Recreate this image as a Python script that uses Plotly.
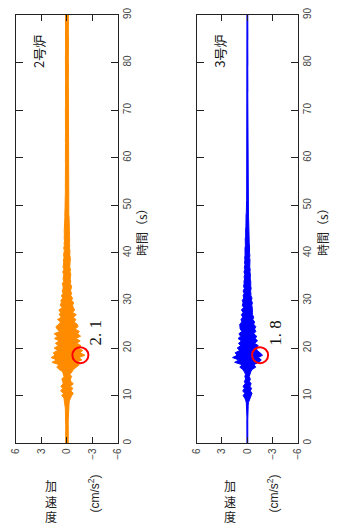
import numpy as np
import plotly.graph_objects as go

# ---- data: per-0.5 s max / min of the acceleration ----
time_s = [round(0.5 * i, 1) for i in range(181)]  # 0 .. 90 s

upper_2 = [
    0.15, 0.14, 0.16, 0.15, 0.14, 0.16, 0.15, 0.15, 0.14, 0.16,
    0.15, 0.16, 0.15, 0.17, 0.18, 0.20, 0.22, 0.25, 0.30, 0.35,
    0.60, 0.40, 0.75, 0.50, 0.70, 0.45, 0.50, 0.60, 0.35, 0.45,
    0.50, 0.90, 1.20, 0.90, 1.75, 1.20, 1.85, 1.40, 1.60, 1.10,
    1.50, 1.00, 1.35, 0.90, 1.45, 1.10, 1.50, 0.85, 1.15, 1.30,
    0.95, 0.75, 1.10, 0.65, 0.90, 0.75, 0.95, 0.55, 0.80, 0.65,
    0.70, 0.50, 0.65, 0.45, 0.55, 0.45, 0.45, 0.55, 0.38, 0.45,
    0.45, 0.38, 0.50, 0.35, 0.45, 0.38, 0.38, 0.42, 0.33, 0.40,
    0.35, 0.30, 0.38, 0.30, 0.33, 0.28, 0.32, 0.28, 0.30, 0.32,
    0.30, 0.26, 0.28, 0.25, 0.27, 0.24, 0.25, 0.22, 0.24, 0.22,
    0.22, 0.20, 0.21, 0.20, 0.19, 0.20, 0.18, 0.19, 0.18, 0.18,
    0.17, 0.18, 0.17, 0.16, 0.18, 0.17, 0.16, 0.17, 0.18, 0.17,
    0.16, 0.17, 0.18, 0.17, 0.16, 0.17, 0.17, 0.18, 0.16, 0.17,
    0.17, 0.16, 0.17, 0.18, 0.17, 0.16, 0.17, 0.17, 0.18, 0.16,
    0.17, 0.18, 0.16, 0.17, 0.17, 0.18, 0.16, 0.17, 0.17, 0.16,
    0.18, 0.17, 0.16, 0.17, 0.18, 0.17, 0.16, 0.17, 0.17, 0.18,
    0.16, 0.17, 0.17, 0.18, 0.16, 0.17, 0.18, 0.17, 0.16, 0.17,
    0.17, 0.16, 0.18, 0.17, 0.17, 0.16, 0.17, 0.18, 0.17, 0.16,
    0.17,
]
lower_2 = [
    -0.15, -0.16, -0.14, -0.15, -0.16, -0.14, -0.15, -0.16, -0.15, -0.14,
    -0.16, -0.15, -0.17, -0.16, -0.18, -0.20, -0.23, -0.25, -0.30, -0.40,
    -0.55, -0.75, -0.45, -0.70, -0.40, -0.75, -0.45, -0.40, -0.55, -0.35,
    -0.60, -0.75, -1.10, -1.45, -1.10, -1.75, -1.40, -2.10, -1.55, -1.85,
    -1.30, -1.65, -1.15, -1.55, -1.05, -1.60, -1.25, -1.45, -0.95, -1.30,
    -1.20, -0.85, -1.05, -0.75, -1.10, -0.65, -0.90, -0.75, -0.65, -0.80,
    -0.55, -0.65, -0.45, -0.55, -0.42, -0.50, -0.55, -0.38, -0.45, -0.38,
    -0.40, -0.45, -0.36, -0.42, -0.33, -0.40, -0.35, -0.38, -0.40, -0.33,
    -0.32, -0.35, -0.29, -0.33, -0.30, -0.27, -0.32, -0.29, -0.27, -0.30,
    -0.28, -0.25, -0.27, -0.24, -0.24, -0.25, -0.22, -0.24, -0.22, -0.21,
    -0.20, -0.21, -0.19, -0.20, -0.19, -0.18, -0.19, -0.18, -0.18, -0.17,
    -0.17, -0.16, -0.18, -0.17, -0.17, -0.16, -0.18, -0.17, -0.16, -0.17,
    -0.18, -0.17, -0.16, -0.17, -0.18, -0.16, -0.17, -0.17, -0.18, -0.16,
    -0.17, -0.18, -0.16, -0.17, -0.17, -0.18, -0.16, -0.17, -0.17, -0.18,
    -0.16, -0.17, -0.18, -0.16, -0.17, -0.17, -0.18, -0.16, -0.17, -0.17,
    -0.17, -0.16, -0.18, -0.17, -0.16, -0.17, -0.18, -0.17, -0.16, -0.17,
    -0.18, -0.16, -0.17, -0.17, -0.18, -0.16, -0.17, -0.18, -0.17, -0.16,
    -0.17, -0.18, -0.16, -0.17, -0.17, -0.18, -0.16, -0.17, -0.17, -0.16,
    -0.17,
]

upper_3 = [
    0.05, 0.06, 0.05, 0.05, 0.06, 0.05, 0.05, 0.06, 0.05, 0.05,
    0.06, 0.05, 0.06, 0.07, 0.07, 0.08, 0.10, 0.12, 0.20, 0.30,
    0.50, 0.30, 0.55, 0.35, 0.50, 0.25, 0.35, 0.20, 0.30, 0.22,
    0.35, 0.55, 0.90, 0.60, 1.50, 1.00, 1.75, 1.20, 1.45, 0.90,
    1.20, 0.80, 1.05, 0.70, 1.10, 0.80, 1.00, 0.65, 0.85, 0.90,
    0.90, 0.65, 0.75, 0.55, 0.70, 0.50, 0.70, 0.45, 0.60, 0.50,
    0.60, 0.42, 0.50, 0.38, 0.50, 0.35, 0.45, 0.38, 0.40, 0.33,
    0.38, 0.30, 0.40, 0.30, 0.35, 0.28, 0.34, 0.28, 0.32, 0.27,
    0.30, 0.25, 0.28, 0.23, 0.26, 0.21, 0.25, 0.20, 0.22, 0.19,
    0.20, 0.17, 0.18, 0.15, 0.16, 0.14, 0.15, 0.12, 0.13, 0.11,
    0.10, 0.09, 0.09, 0.08, 0.08, 0.07, 0.07, 0.07, 0.06, 0.06,
    0.05, 0.06, 0.05, 0.05, 0.06, 0.05, 0.06, 0.05, 0.05, 0.06,
    0.05, 0.05, 0.06, 0.05, 0.05, 0.06, 0.05, 0.06, 0.05, 0.05,
    0.06, 0.05, 0.05, 0.06, 0.05, 0.05, 0.06, 0.05, 0.06, 0.05,
    0.05, 0.06, 0.05, 0.05, 0.06, 0.05, 0.05, 0.06, 0.05, 0.06,
    0.05, 0.05, 0.06, 0.05, 0.06, 0.05, 0.05, 0.06, 0.05, 0.05,
    0.06, 0.05, 0.05, 0.06, 0.05, 0.06, 0.05, 0.05, 0.06, 0.05,
    0.05, 0.06, 0.05, 0.05, 0.06, 0.05, 0.06, 0.05, 0.05, 0.06,
    0.05,
]
lower_3 = [
    -0.05, -0.05, -0.06, -0.05, -0.05, -0.06, -0.05, -0.05, -0.06, -0.05,
    -0.05, -0.06, -0.06, -0.07, -0.08, -0.08, -0.10, -0.12, -0.22, -0.30,
    -0.45, -0.55, -0.35, -0.50, -0.30, -0.45, -0.25, -0.35, -0.22, -0.30,
    -0.40, -0.55, -1.00, -0.75, -1.35, -1.65, -1.30, -1.80, -1.50, -1.15,
    -1.05, -1.30, -0.85, -1.20, -0.95, -1.10, -0.75, -1.00, -0.85, -1.00,
    -0.75, -0.85, -0.65, -0.75, -0.60, -0.60, -0.62, -0.58, -0.52, -0.60,
    -0.48, -0.55, -0.42, -0.42, -0.38, -0.45, -0.40, -0.36, -0.40, -0.34,
    -0.33, -0.36, -0.30, -0.34, -0.28, -0.32, -0.28, -0.31, -0.26, -0.30,
    -0.25, -0.28, -0.23, -0.26, -0.22, -0.22, -0.21, -0.22, -0.19, -0.22,
    -0.18, -0.17, -0.16, -0.15, -0.15, -0.13, -0.13, -0.12, -0.11, -0.10,
    -0.09, -0.09, -0.08, -0.08, -0.07, -0.07, -0.07, -0.06, -0.06, -0.06,
    -0.05, -0.05, -0.06, -0.05, -0.05, -0.06, -0.05, -0.05, -0.06, -0.05,
    -0.06, -0.05, -0.05, -0.06, -0.05, -0.05, -0.06, -0.05, -0.05, -0.06,
    -0.05, -0.06, -0.05, -0.05, -0.06, -0.05, -0.05, -0.06, -0.05, -0.05,
    -0.06, -0.05, -0.05, -0.06, -0.05, -0.06, -0.05, -0.05, -0.06, -0.05,
    -0.05, -0.06, -0.05, -0.05, -0.06, -0.05, -0.05, -0.06, -0.05, -0.06,
    -0.05, -0.05, -0.06, -0.05, -0.05, -0.06, -0.05, -0.05, -0.06, -0.05,
    -0.06, -0.05, -0.05, -0.06, -0.05, -0.05, -0.06, -0.05, -0.05, -0.06,
    -0.05,
]

series_names = ["2号炉", "3号炉"]
series_colors = ["#FF8C00", "#0000FF"]
peak_labels = ["2. 1", "1. 8"]
value_ticks = [6, 3, 0, -3, -6]
time_ticks = [0, 10, 20, 30, 40, 50, 60, 70, 80, 90]

W, H = 337, 526


def px(x):
    return x / W


def py(y):
    return 1 - y / H


fig = go.Figure()

x_domains = [[px(10), px(116)], [px(197), px(302)]]
y_domain = [py(443), py(8)]
uppers = [upper_2, upper_3]
lowers = [lower_2, lower_3]
circle_offsets = [(-12.5, 3.5), (-10.5, 5.5)]
time_title_x = [140, 327]
kanji_x = [47, 232]
unit_x = [91, 276]

for i in range(2):
    xa = "x" if i == 0 else "x2"
    ya = "y" if i == 0 else "y2"
    up, lo = uppers[i], lowers[i]
    fig.add_trace(go.Scatter(
        x=up + lo[::-1], y=time_s + time_s[::-1], mode="lines",
        fill="toself", fillcolor=series_colors[i],
        line=dict(color=series_colors[i], width=1),
        xaxis=xa, yaxis=ya, showlegend=False, hoverinfo="skip"))

    axis_common = dict(
        showgrid=False, zeroline=False, showline=True, mirror="allticks",
        linecolor="#222", linewidth=1.2, ticks="inside", tickcolor="#222",
        tickwidth=1.2, tickangle=-90,
        tickfont=dict(family="Liberation Sans, Arial", size=10, color="#444"),
    )
    xkey = "xaxis" if i == 0 else "xaxis2"
    ykey = "yaxis" if i == 0 else "yaxis2"
    fig.layout[xkey] = dict(
        axis_common, domain=x_domains[i], range=[6, -6],
        tickvals=value_ticks, ticklen=6, anchor=ya)
    fig.layout[ykey] = dict(
        axis_common, domain=y_domain, range=[0, 90], side="right",
        tickvals=time_ticks, ticklen=7, anchor=xa)

    # peak marker (largest |acceleration|)
    lo_arr = np.array(lo)
    k = int(np.argmin(lo_arr))
    ox0, ox1 = circle_offsets[i]
    fig.add_shape(type="circle", xref=xa, yref=ya,
                  xsizemode="pixel", ysizemode="pixel",
                  xanchor=float(lo_arr[k]), yanchor=time_s[k],
                  x0=ox0, x1=ox1, y0=-8, y1=8,
                  line=dict(color="#FF0000", width=2))
    fig.add_annotation(xref=xa, yref=ya, x=-3.3, y=23.3, text=peak_labels[i],
                       textangle=-90, showarrow=False,
                       xanchor="center", yanchor="middle",
                       font=dict(family="Liberation Serif, DejaVu Serif", size=17, color="#111"))
    fig.add_annotation(xref=xa, yref=ya, x=3.4, y=82.4, text=series_names[i],
                       textangle=-90, showarrow=False,
                       xanchor="center", yanchor="middle",
                       font=dict(family="Noto Sans CJK JP", size=13, color="#111"))

    # axis titles
    fig.add_annotation(xref="paper", yref="paper", x=px(time_title_x[i]), y=py(225),
                       text="時間（s）", textangle=-90, showarrow=False,
                       xanchor="center", yanchor="middle",
                       font=dict(family="Noto Sans CJK JP", size=12, color="#222"))
    fig.add_annotation(xref="paper", yref="paper", x=px(kanji_x[i]), y=py(502),
                       text="加<br>速<br>度", showarrow=False, borderpad=0,
                       xanchor="center", yanchor="middle",
                       font=dict(family="Noto Sans CJK JP", size=12, color="#222"))
    fig.add_annotation(xref="paper", yref="paper", x=px(unit_x[i]), y=py(494),
                       text="(cm/s<sup>2</sup>)", textangle=-90, showarrow=False,
                       xanchor="center", yanchor="middle",
                       font=dict(family="Liberation Sans, Arial", size=12, color="#222"))

fig.update_layout(
    width=W, height=H, margin=dict(l=0, r=0, t=0, b=0),
    paper_bgcolor="white", plot_bgcolor="white",
)

fig.write_html("out.html", config={"displayModeBar": False},
               post_script="document.body.style.margin='0px';")
